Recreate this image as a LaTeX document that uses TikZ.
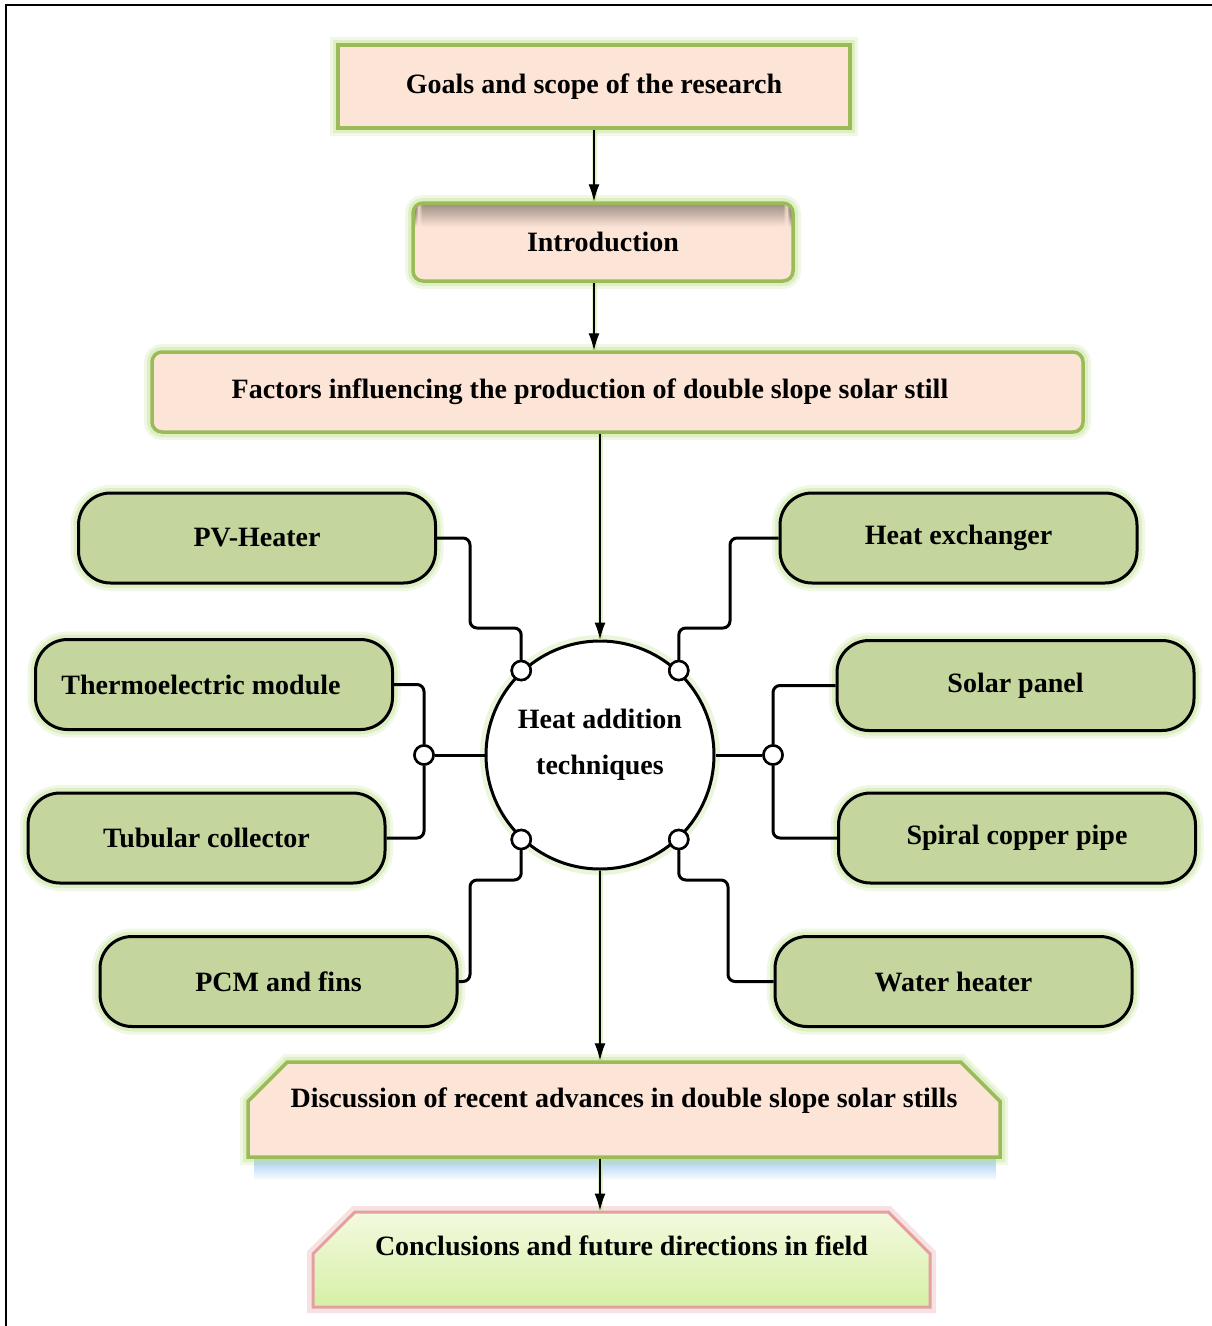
\documentclass[tikz,border=0pt]{standalone}
\usepackage{fontspec}
\setmainfont{Liberation Serif}
\usetikzlibrary{shapes.misc,arrows.meta,calc}
\definecolor{peach}{HTML}{FCE4D6}
\definecolor{olivebd}{HTML}{9BBB59}
\definecolor{glowgreen}{HTML}{C6E59A}
\definecolor{boxgreen}{HTML}{C4D69E}
\definecolor{introtop}{HTML}{8A7A72}
\definecolor{blueshadow}{HTML}{8DC0F0}
\definecolor{concborder}{HTML}{E4A0A0}
\definecolor{conctop}{HTML}{F3FADF}
\definecolor{concbot}{HTML}{D6EFA6}
\tikzset{
  txt/.style={font=\fontsize{28}{34}\selectfont\bfseries, text=black},
  glow/.style={preaction={draw=glowgreen, line width=16pt, draw opacity=0.25},
               preaction={draw=glowgreen, line width=10pt, draw opacity=0.45}},
  peachbox/.style={txt, glow, draw=olivebd, line width=3.5pt, fill=peach, inner sep=0pt},
  greenbox/.style={txt, glow, draw=black, line width=3pt, fill=boxgreen,
                   rounded corners=32pt, minimum width=357pt, minimum height=90pt, inner sep=0pt},
  conn/.style={draw=black, line width=3pt, rounded corners=7pt},
  junc/.style={circle, draw=black, line width=2.5pt, fill=white, minimum size=19pt, inner sep=0pt},
  flow/.style={draw=black, line width=1.2pt, -{Latex[length=17pt,width=11pt]},
               preaction={draw=glowgreen, line width=5pt, draw opacity=0.5, -}},
}
\begin{document}
\begin{tikzpicture}[x=1pt,y=-1pt]
\useasboundingbox (0,0) rectangle (1211,1326);
\fill[white] (0,0) rectangle (1211,1326);
\draw[line width=2pt] (6,1330) -- (6,5) -- (1215,5);

% top flow boxes
\node[peachbox, minimum width=512pt, minimum height=83pt] (goals) at (594,86.5)
  {\raisebox{3pt}{Goals and scope of the research}};
\node[peachbox, rounded corners=10pt, minimum width=380pt, minimum height=78pt,
      path picture={\foreach \i [evaluate=\i as \op using 0.8-\i*0.07] in {0,...,11}
        \fill[introtop, opacity=\op]
        ([yshift=-2*\i pt]path picture bounding box.north west) rectangle
        ([yshift=-2*\i pt-2pt]path picture bounding box.north east);}]
  (intro) at (603,242) {Introduction};
\node[peachbox, rounded corners=10pt, minimum width=931pt, minimum height=80pt] (factors) at (617.5,392)
  {\hspace*{-55pt}\raisebox{-3pt}{Factors influencing the production of double slope solar still}};

% central circle
\node[circle, draw=black, line width=3pt, fill=white, minimum size=228pt, inner sep=0pt, txt,
      preaction={draw=glowgreen, line width=12pt, draw opacity=0.35},
      align=center] (circ) at (600,755)
  {\raisebox{50pt}{\parbox{200pt}{\centering Heat addition\\[12pt] techniques}}};

% junctions
\node[junc] (j1) at (circ.133) {};
\node[junc] (j2) at (circ.47) {};
\node[junc] (j5) at (circ.227) {};
\node[junc] (j6) at (circ.313) {};
\node[junc] (j3) at (424,755) {};
\node[junc] (j4) at (773,755) {};

% green boxes
\node[greenbox] (pv) at (257,538) {PV-Heater};
\node[greenbox] (thermo) at (214,684.5) {\hspace*{-26pt}Thermoelectric module};
\node[greenbox] (tub) at (206.5,838) {Tubular collector};
\node[greenbox] (pcm) at (278.5,981.5) {PCM and fins};
\node[greenbox] (hx) at (958.5,538) {\raisebox{-3pt}{Heat exchanger}};
\node[greenbox] (solar) at (1015.5,685.5) {Solar panel};
\node[greenbox] (spiral) at (1017,838) {Spiral copper pipe};
\node[greenbox] (wh) at (953.5,981.5) {Water heater};

% bottom boxes
\foreach \i [evaluate=\i as \op using 0.85-\i*0.075] in {0,...,11}
  \fill[blueshadow, opacity=\op] (254,1157+2*\i) rectangle (996,1159+2*\i);
\node[peachbox, chamfered rectangle, chamfered rectangle corners={north west,north east},
      chamfered rectangle xsep=40pt, chamfered rectangle ysep=18pt,
      minimum width=752pt, minimum height=95pt] (disc) at (624,1109.5)
  {\raisebox{23pt}{Discussion of recent advances in double slope solar stills}};
\node[txt, chamfered rectangle, chamfered rectangle corners={north west,north east},
      chamfered rectangle xsep=40pt, chamfered rectangle ysep=18pt,
      minimum width=617pt, minimum height=95pt, inner sep=0pt,
      draw=concborder, line width=3pt, top color=conctop, bottom color=concbot,
      preaction={draw=concborder, line width=12pt, draw opacity=0.3}] (conc) at (621.5,1259.5)
  {\raisebox{28pt}{Conclusions and future directions in field}};

% connectors
\draw[conn] (pv.east) -| (470,628) -| (j1);
\draw[conn] (hx.west) -| (730,628) -| (j2);
\draw[conn] (thermo.east) -| (j3);
\draw[conn] (tub.east) -| (j3);
\draw[conn] (j3) -- (circ);
\draw[conn] (solar.west) -| (j4);
\draw[conn] (spiral.west) -| (j4);
\draw[conn] (j4) -- (circ);
\draw[conn] (pcm.east) -| (470,880) -| (j5);
\draw[conn] (wh.west) -| (728,880) -| (j6);
\node[junc] at (j1) {};
\node[junc] at (j2) {};
\node[junc] at (j3) {};
\node[junc] at (j4) {};
\node[junc] at (j5) {};
\node[junc] at (j6) {};

% flow arrows
\draw[flow] (goals.south) -- (goals.south |- intro.north);
\draw[flow] (goals.south |- intro.south) -- (goals.south |- factors.north);
\draw[flow] (circ.north |- factors.south) -- (circ.north);
\draw[flow] (circ.south) -- (circ.south |- disc.north);
\draw[flow] (circ.south |- disc.south) -- (circ.south |- conc.north);
\end{tikzpicture}
\end{document}
